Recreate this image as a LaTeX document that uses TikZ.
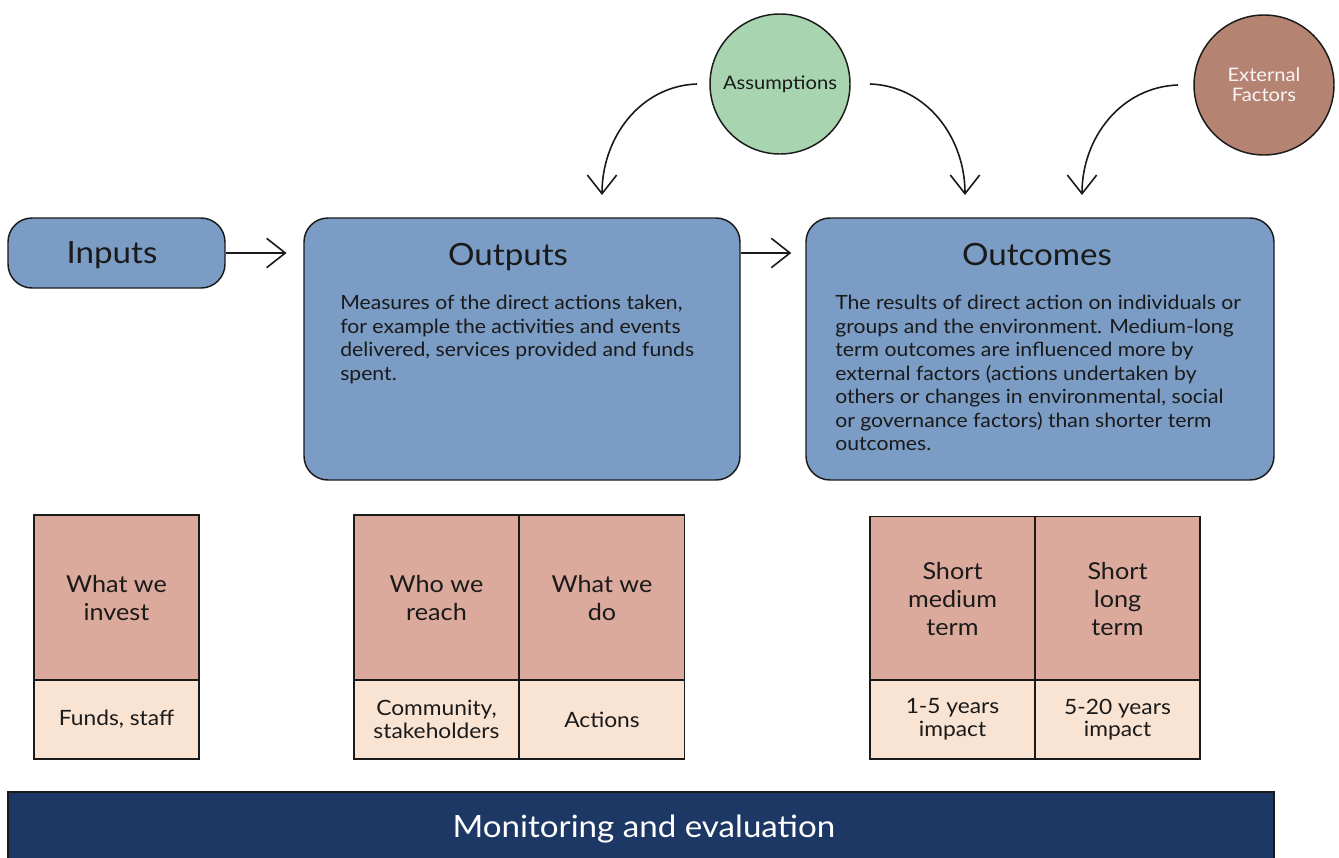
\documentclass[tikz,border=0pt]{standalone}
\usepackage{fontspec}
\setmainfont{Lato}[FakeStretch=1.08]
\usetikzlibrary{arrows.meta,calc}
\definecolor{boxblue}{HTML}{7A9CC5}
\definecolor{assumgreen}{HTML}{A8D5B0}
\definecolor{extbrown}{HTML}{B48372}
\definecolor{cellpink}{HTML}{DCAA9C}
\definecolor{celllight}{HTML}{F9E3D2}
\definecolor{navy}{HTML}{1E3865}
\definecolor{inkc}{HTML}{1A1A1A}
\begin{document}
\begin{tikzpicture}[x=0.75pt,y=-0.75pt,
  bigbox/.style={draw=inkc, line width=1.1pt, fill=boxblue, rounded corners=18pt, inner sep=0pt},
  circ/.style={draw=inkc, line width=1.1pt, circle, minimum size=105pt, inner sep=0pt, font=\fontsize{14}{16}\selectfont},
  heading/.style={font=\fontsize{23}{27}\selectfont, text=inkc},
  bodytext/.style={font=\fontsize{14.7}{17.6}\selectfont, text=inkc, align=left, anchor=north west, inner sep=0pt},
  topcell/.style={draw=inkc, line width=1.1pt, fill=cellpink, minimum width=123.75pt, minimum height=123.75pt, inner sep=0pt, align=center, font=\fontsize{17.5}{21}\selectfont, text=inkc},
  botcell/.style={draw=inkc, line width=1.1pt, fill=celllight, minimum width=123.75pt, minimum height=59.25pt, inner sep=0pt, align=center, font=\fontsize{15.8}{17}\selectfont, text=inkc},
  arr/.style={draw=inkc, line width=1.2pt, -{Straight Barb[length=14pt,width=22pt,line width=1.2pt]}}
]
\useasboundingbox (0,0) rectangle (1339,857);

% circles
\node[circ, fill=assumgreen, text=inkc] (assum) at (780,84) {Assumptions};
\node[circ, fill=extbrown, text=white!92!extbrown, align=center, font=\fontsize{14}{15}\selectfont] (ext) at (1264,85) {External\\Factors};

% big boxes
\node[bigbox, minimum width=162.75pt, minimum height=52.5pt] (inputs) at (116.5,253) {};
\node[heading] (inputsT) at (112,255) {Inputs};
\node[bigbox, minimum width=327pt, minimum height=196.5pt] (outputs) at (522,349) {};
\node[heading] (outputsT) at (508,257) {Outputs};
\node[bodytext] (outputsB) at (340,295) {Measures of the direct actions taken,\\for example the activities and events\\delivered, services provided and funds\\spent.};
\node[bigbox, minimum width=351pt, minimum height=196.5pt] (outcomes) at (1040,349) {};
\node[heading] (outcomesT) at (1037,255) {Outcomes};
\node[bodytext] (outcomesB) at (835,295) {The results of direct action on individuals or\\groups and the environment. Medium-long\\term outcomes are influenced more by\\external factors (actions undertaken by\\others or changes in environmental, social\\or governance factors) than shorter term\\outcomes.};

% horizontal arrows
\draw[arr, shorten >=12.5pt] (inputs.east) -- (inputs.east -| outputs.west);
\draw[arr, shorten >=10.5pt] (outputs.east |- inputs.east) -- (inputs.east -| outcomes.west);

% curved arrows
\coordinate (a1s) at (697,84);
\coordinate (a1e) at (602,195);
\coordinate (a2s) at (870,84);
\coordinate (a2e) at (965,195);
\coordinate (a3s) at (1178,85);
\coordinate (a3e) at (1082,195);
\draw[arr] (a1s) to[out=182,in=90] (a1e);
\draw[arr] (a2s) to[out=-2,in=90] (a2e);
\draw[arr] (a3s) to[out=182,in=90] (a3e);

% bottom tables
\node[topcell] (c1t) at (116.5,597.5) {What we\\invest};
\node[botcell] (c1b) at (116.5,719.5) {Funds, staff};
\node[topcell] (c2t) at (436.5,597.5) {Who we\\reach};
\node[botcell] (c2b) at (436.5,719.5) {Community,\\stakeholders};
\node[topcell] (c3t) at (602,597.5) {What we\\do};
\node[botcell] (c3b) at (602,719.5) {Actions};
\node[topcell] (c4t) at (952.5,599) {Short\\medium\\term};
\node[botcell] (c4b) at (952.5,719.5) {1-5 years\\impact};
\node[topcell] (c5t) at (1117.5,599) {Short\\long\\term};
\node[botcell] (c5b) at (1117.5,719.5) {5-20 years\\impact};

% monitoring bar
\node[draw=inkc, line width=1.1pt, fill=navy, minimum width=949.5pt, minimum height=52.5pt, inner sep=0pt] (mon) at (641,827) {};
\node[text=white, font=\fontsize{23}{27}\selectfont] (monT) at (644,829) {Monitoring and evaluation};
\end{tikzpicture}
\end{document}
